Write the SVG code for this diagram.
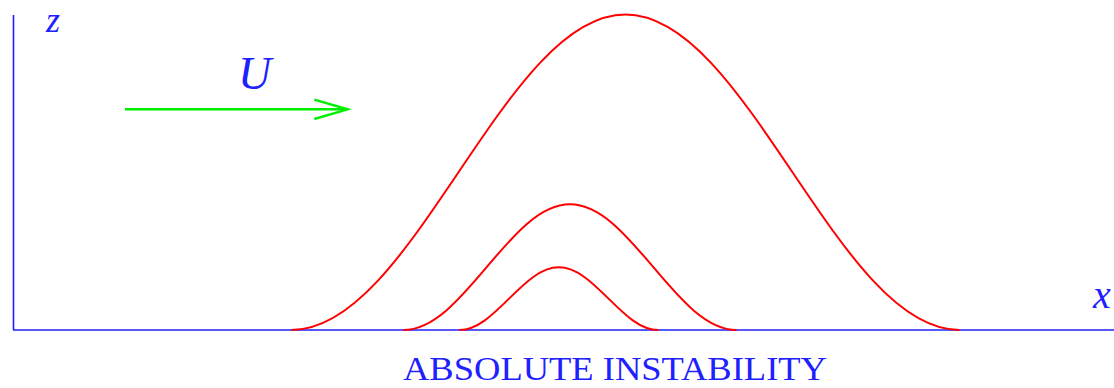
<svg xmlns="http://www.w3.org/2000/svg" width="1114" height="388" viewBox="0 0 1114 388">
<style>
.axis{stroke:#2020ff;stroke-width:1.6;fill:none}
.curve{stroke:#ff0000;stroke-width:2;fill:none}
.arrow{stroke:#00ee00;stroke-width:2.4;fill:none;stroke-linecap:butt}
.math{font-family:"Liberation Serif",serif;font-style:italic;fill:#2020ff}
.label{font-family:"Liberation Serif",serif;fill:#2020ff}
</style>
<rect width="1114" height="388" fill="#ffffff"/>
<g id="axes">
<line class="axis" x1="13.5" y1="15" x2="13.5" y2="330"/>
<line class="axis" x1="13" y1="330" x2="1114" y2="330"/>
</g>
<g id="curves">
<path class="curve" d="M291.5,330 C351.950,330 404,253.05 458.5,172.25 C513,91.45 565,14.5 625.5,14.5 C686,14.5 738,91.45 792.5,172.25 C847,253.05 899.05,330 959.5,330"/>
<path class="curve" d="M403.3,330 C433.47,330 459.46,299.34 486.65,267.15 C513.84,234.96 539.83,204.3 570,204.3 C600.17,204.3 626.16,234.96 653.35,267.15 C680.54,299.34 706.53,330 736.7,330"/>
<path class="curve" d="M459.3,330 C477.31,330 492.82,314.71 509.05,298.65 C525.28,282.59 540.79,267.3 558.8,267.3 C576.81,267.3 592.32,282.59 608.55,298.65 C624.78,314.71 640.29,330 658.3,330"/>
</g>
<g id="flow">
<line class="arrow" x1="125" y1="109.3" x2="347" y2="109.3"/>
<polyline class="arrow" points="314.3,99.7 347.7,109.3 314.3,119"/>
</g>
<g id="labels">
<text class="math" x="46" y="32" font-size="36">z</text>
<text class="math" x="238" y="89" font-size="46">U</text>
<text class="math" x="1093" y="308" font-size="40">x</text>
<text class="label" x="403" y="380" font-size="33" textLength="424" lengthAdjust="spacingAndGlyphs">ABSOLUTE INSTABILITY</text>
</g>
</svg>
